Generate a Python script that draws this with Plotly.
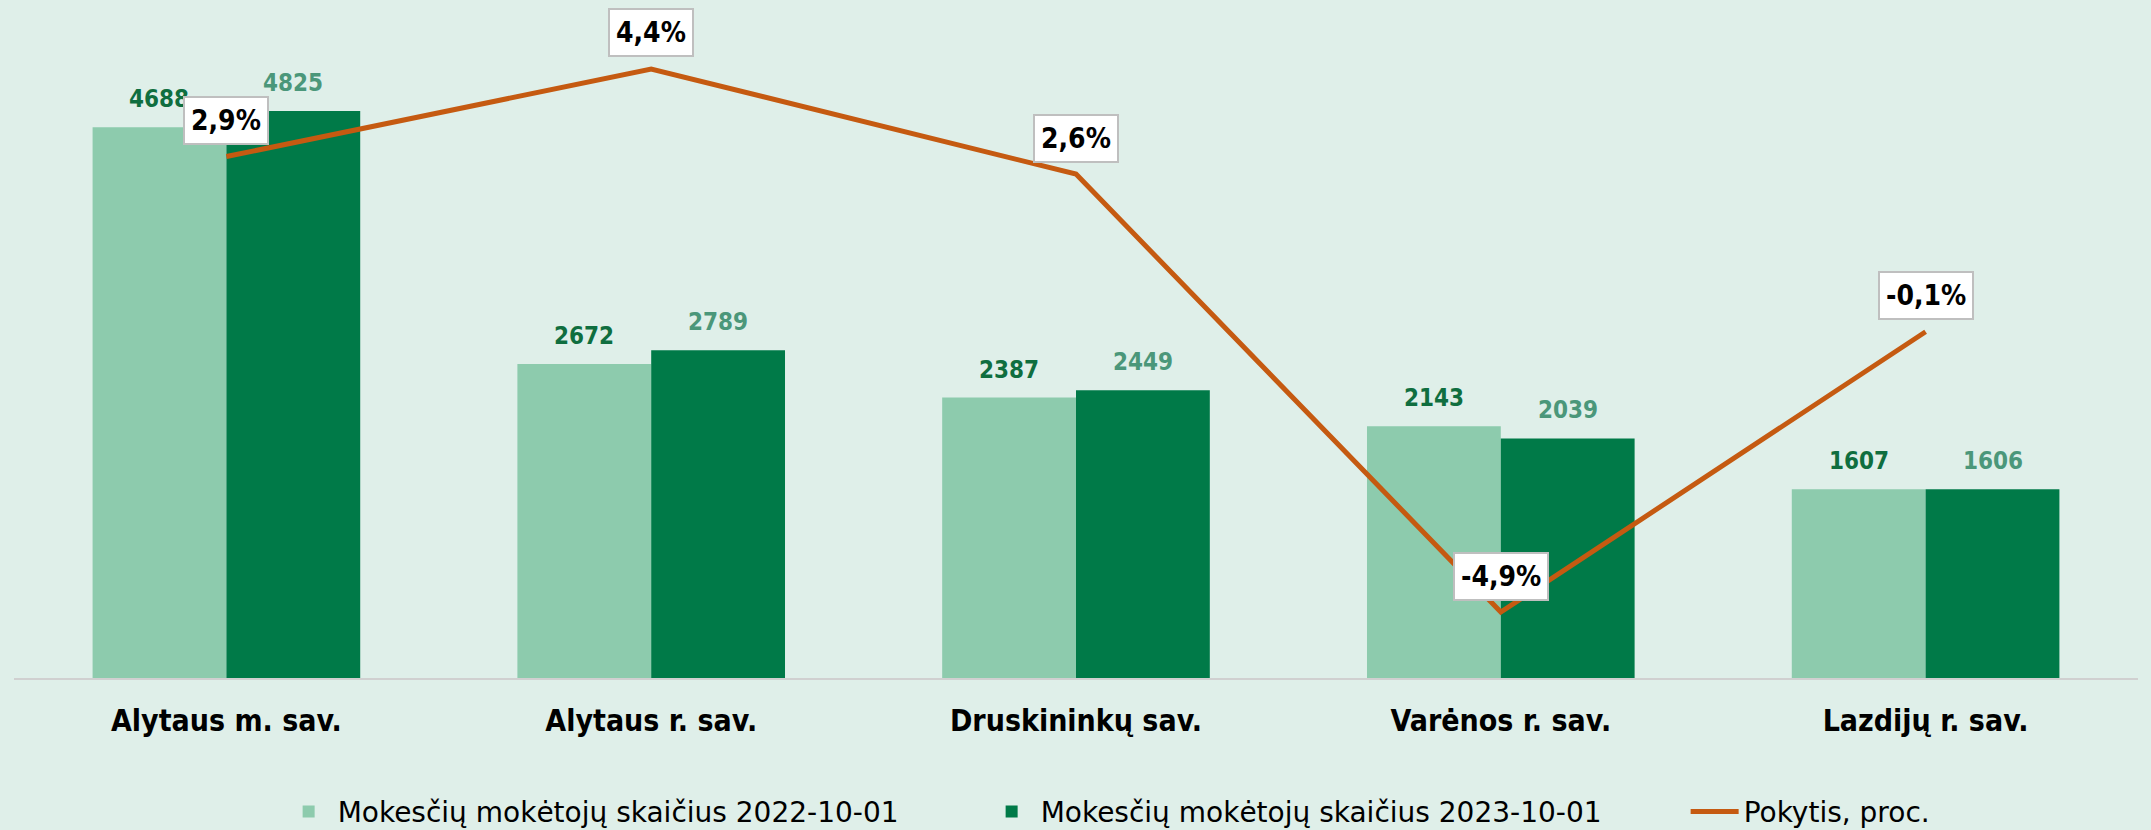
import plotly.graph_objects as go

categories = ["Alytaus m. sav.", "Alytaus r. sav.", "Druskininkų sav.", "Varėnos r. sav.", "Lazdijų r. sav."]
payers_2022 = [4688, 2672, 2387, 2143, 1607]
payers_2023 = [4825, 2789, 2449, 2039, 1606]
change_pct = [2.9, 4.4, 2.6, -4.9, -0.1]

name_2022 = "Mokesčių mokėtojų skaičius 2022-10-01"
name_2023 = "Mokesčių mokėtojų skaičius 2023-10-01"
name_change = "Pokytis, proc."

BG = "#DFEFE9"
LIGHT = "#8DCBAD"
DARK = "#007A48"
ORANGE = "#C55A11"
FONT = "DejaVu Sans Condensed"
LEGEND_FONT = "DejaVu Sans"

fig = go.Figure()
fig.add_trace(go.Bar(x=categories, y=payers_2022, name=name_2022, marker_color=LIGHT,
                     marker_line_width=0))
fig.add_trace(go.Bar(x=categories, y=payers_2023, name=name_2023, marker_color=DARK,
                     marker_line_width=0))
fig.add_trace(go.Scatter(x=categories, y=change_pct, name=name_change, yaxis="y2",
                         mode="lines", line=dict(color=ORANGE, width=5)))

annotations = []
for c, v in zip(categories, payers_2022):
    annotations.append(dict(x=c, y=v, xref="x", yref="y", text=f"<b>{v}</b>", showarrow=False,
                            xshift=-67, yanchor="bottom", yshift=12,
                            font=dict(family=FONT, size=24, color="#0F6E3F")))
for c, v in zip(categories, payers_2023):
    annotations.append(dict(x=c, y=v, xref="x", yref="y", text=f"<b>{v}</b>", showarrow=False,
                            xshift=67, yanchor="bottom", yshift=12,
                            font=dict(family=FONT, size=24, color="#4B977A")))
for c, v in zip(categories, change_pct):
    annotations.append(dict(x=c, y=v, xref="x", yref="y2",
                            text="<b>" + f"{v:.1f}".replace(".", ",") + "%</b>",
                            showarrow=False, yanchor="middle", yshift=36,
                            bgcolor="white", bordercolor="#BFBFBF", borderwidth=2, borderpad=6,
                            font=dict(family=FONT, size=28, color="black")))

fig.update_layout(
    width=2151, height=830,
    paper_bgcolor=BG, plot_bgcolor=BG,
    margin=dict(l=14, r=13, t=10, b=152, autoexpand=False),
    barmode="group", bargap=0.37, bargroupgap=0,
    showlegend=True,
    legend=dict(orientation="h", xref="container", yref="container",
                x=0.130, xanchor="left", y=0.022, yanchor="middle",
                font=dict(family=LEGEND_FONT, size=28, color="black"),
                itemwidth=48, entrywidth=640, bgcolor="rgba(0,0,0,0)"),
    xaxis=dict(showline=True, linecolor="#D0D0D0", linewidth=2, showgrid=False, ticks="",
               automargin=False, ticklabelstandoff=15,
               tickfont=dict(family=FONT, size=30, color="black"), fixedrange=True),
    yaxis=dict(range=[0, 5685], visible=False, showgrid=False),
    yaxis2=dict(range=[-6.03, 5.41], overlaying="y", visible=False, showgrid=False),
    annotations=annotations,
)
fig.update_xaxes(tickprefix="<b>", ticksuffix="</b>")

fig.write_html("out.html", config={"displayModeBar": False},
               post_script="document.body.style.margin='0';document.body.style.overflow='hidden';")
